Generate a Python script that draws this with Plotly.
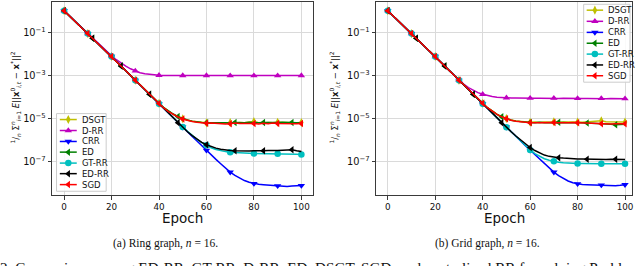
import plotly.graph_objects as go

W, H = 640, 266

# ---------------- data (log10 of the error) ----------------
epochs = list(range(0, 101, 2))
x_tick_vals = [0, 20, 40, 60, 80, 100]
y_tick_vals = [1e-1, 1e-3, 1e-5, 1e-7]
y_tick_text = ["10<sup>−1</sup>", "10<sup>−3</sup>", "10<sup>−5</sup>", "10<sup>−7</sup>"]
series_names = ["DSGT", "D-RR", "CRR", "ED", "GT-RR", "ED-RR", "SGD"]

ring_dsgt = [0.00, -0.21, -0.43, -0.64, -0.85, -1.06, -1.27, -1.48, -1.70, -1.91,
             -2.12, -2.34, -2.56, -2.78, -3.00, -3.22, -3.44, -3.65, -3.87, -4.08,
             -4.29, -4.49, -4.66, -4.80, -4.91, -5.00, -5.07, -5.12, -5.15, -5.17,
             -5.19, -5.20, -5.18, -5.21, -5.19, -5.18, -5.20, -5.17, -5.19, -5.16,
             -5.13, -5.18, -5.20, -5.17, -5.19, -5.16, -5.18, -5.17, -5.19, -5.18,
             -5.17]
ring_drr = [0.00, -0.21, -0.43, -0.64, -0.85, -1.06, -1.27, -1.48, -1.69, -1.89,
            -2.09, -2.27, -2.43, -2.57, -2.69, -2.79, -2.87, -2.92, -2.95, -2.97,
            -2.99, -3.00, -3.00, -3.01, -3.00, -3.00, -3.01, -3.00, -3.00, -3.00,
            -3.00, -3.01, -3.00, -3.00, -3.00, -3.01, -3.00, -3.00, -3.00, -3.00,
            -3.01, -3.00, -3.00, -3.00, -3.00, -3.01, -3.00, -3.00, -3.00, -3.00,
            -3.00]
ring_crr = [0.00, -0.21, -0.43, -0.64, -0.85, -1.06, -1.27, -1.48, -1.70, -1.91,
            -2.12, -2.34, -2.56, -2.78, -3.00, -3.22, -3.44, -3.65, -3.87, -4.09,
            -4.31, -4.53, -4.75, -4.96, -5.18, -5.39, -5.60, -5.82, -6.03, -6.25,
            -6.46, -6.67, -6.88, -7.08, -7.28, -7.47, -7.62, -7.75, -7.86, -7.94,
            -8.00, -8.03, -8.05, -8.07, -8.08, -8.10, -8.11, -8.13, -8.11, -8.10,
            -8.09]
ring_ed = [0.00, -0.21, -0.43, -0.64, -0.85, -1.06, -1.27, -1.48, -1.70, -1.91,
           -2.12, -2.34, -2.56, -2.78, -3.00, -3.22, -3.44, -3.65, -3.87, -4.08,
           -4.29, -4.48, -4.64, -4.78, -4.90, -4.99, -5.06, -5.11, -5.15, -5.17,
           -5.18, -5.19, -5.17, -5.19, -5.18, -5.20, -5.17, -5.19, -5.18, -5.16,
           -5.18, -5.19, -5.17, -5.18, -5.19, -5.17, -5.16, -5.18, -5.17, -5.19,
           -5.18]
ring_gtrr = [0.00, -0.21, -0.43, -0.64, -0.85, -1.06, -1.27, -1.48, -1.70, -1.91,
             -2.12, -2.34, -2.56, -2.78, -3.00, -3.22, -3.44, -3.65, -3.87, -4.09,
             -4.31, -4.53, -4.75, -4.97, -5.18, -5.38, -5.58, -5.77, -5.95, -6.10,
             -6.23, -6.34, -6.42, -6.48, -6.52, -6.55, -6.57, -6.58, -6.59, -6.60,
             -6.61, -6.61, -6.62, -6.61, -6.62, -6.62, -6.62, -6.63, -6.63, -6.64,
             -6.65]
ring_edrr = [0.00, -0.21, -0.43, -0.64, -0.85, -1.06, -1.27, -1.48, -1.70, -1.91,
             -2.12, -2.34, -2.56, -2.78, -3.00, -3.22, -3.44, -3.65, -3.87, -4.09,
             -4.31, -4.53, -4.75, -4.97, -5.19, -5.40, -5.60, -5.78, -5.95, -6.09,
             -6.20, -6.29, -6.36, -6.41, -6.45, -6.47, -6.48, -6.49, -6.48, -6.49,
             -6.48, -6.49, -6.48, -6.47, -6.48, -6.47, -6.46, -6.45, -6.43, -6.48,
             -6.52]
ring_sgd = [0.00, -0.21, -0.43, -0.64, -0.85, -1.06, -1.27, -1.48, -1.70, -1.91,
            -2.12, -2.34, -2.56, -2.78, -3.00, -3.22, -3.44, -3.65, -3.87, -4.09,
            -4.30, -4.50, -4.67, -4.81, -4.92, -5.01, -5.08, -5.13, -5.16, -5.19,
            -5.21, -5.20, -5.22, -5.21, -5.24, -5.23, -5.20, -5.22, -5.21, -5.23,
            -5.22, -5.24, -5.21, -5.23, -5.20, -5.22, -5.23, -5.21, -5.22, -5.23,
            -5.22]

grid_dsgt = [0.00, -0.21, -0.43, -0.64, -0.85, -1.06, -1.27, -1.48, -1.70, -1.91,
             -2.12, -2.34, -2.56, -2.78, -3.00, -3.22, -3.44, -3.65, -3.87, -4.08,
             -4.28, -4.48, -4.65, -4.79, -4.90, -4.99, -5.06, -5.10, -5.13, -5.15,
             -5.16, -5.15, -5.17, -5.15, -5.16, -5.14, -5.16, -5.15, -5.14, -5.16,
             -5.15, -5.16, -5.14, -5.15, -5.13, -5.09, -5.14, -5.15, -5.16, -5.14,
             -5.15]
grid_drr = [0.00, -0.21, -0.43, -0.64, -0.85, -1.06, -1.27, -1.48, -1.70, -1.91,
            -2.12, -2.34, -2.56, -2.78, -2.99, -3.21, -3.40, -3.56, -3.69, -3.79,
            -3.87, -3.93, -3.97, -4.00, -4.02, -4.03, -4.04, -4.04, -4.05, -4.05,
            -4.05, -4.05, -4.05, -4.06, -4.05, -4.05, -4.06, -4.05, -4.06, -4.06,
            -4.06, -4.06, -4.06, -4.07, -4.06, -4.06, -4.07, -4.06, -4.07, -4.07,
            -4.07]
grid_crr = [0.00, -0.21, -0.43, -0.64, -0.85, -1.06, -1.27, -1.48, -1.70, -1.91,
            -2.12, -2.34, -2.56, -2.78, -3.00, -3.22, -3.44, -3.65, -3.87, -4.09,
            -4.31, -4.53, -4.75, -4.96, -5.18, -5.39, -5.60, -5.82, -6.03, -6.25,
            -6.46, -6.67, -6.88, -7.08, -7.28, -7.47, -7.63, -7.77, -7.88, -7.96,
            -8.01, -8.04, -8.05, -8.06, -8.07, -8.07, -8.08, -8.09, -8.10, -8.08,
            -8.05]
grid_ed = [0.00, -0.21, -0.43, -0.64, -0.85, -1.06, -1.27, -1.48, -1.70, -1.91,
           -2.12, -2.34, -2.56, -2.78, -3.00, -3.22, -3.44, -3.65, -3.87, -4.08,
           -4.29, -4.49, -4.66, -4.80, -4.91, -5.00, -5.07, -5.11, -5.14, -5.16,
           -5.17, -5.18, -5.16, -5.18, -5.17, -5.18, -5.16, -5.17, -5.18, -5.17,
           -5.18, -5.19, -5.20, -5.19, -5.21, -5.22, -5.24, -5.26, -5.28, -5.26,
           -5.25]
grid_gtrr = [0.00, -0.21, -0.43, -0.64, -0.85, -1.06, -1.27, -1.48, -1.70, -1.91,
             -2.12, -2.34, -2.56, -2.78, -3.00, -3.22, -3.44, -3.65, -3.87, -4.09,
             -4.31, -4.53, -4.75, -4.97, -5.18, -5.39, -5.60, -5.81, -6.02, -6.24,
             -6.44, -6.61, -6.75, -6.85, -6.92, -6.97, -7.01, -7.03, -7.05, -7.06,
             -7.07, -7.07, -7.08, -7.08, -7.08, -7.08, -7.08, -7.08, -7.08, -7.08,
             -7.08]
grid_edrr = [0.00, -0.21, -0.43, -0.64, -0.85, -1.06, -1.27, -1.48, -1.70, -1.91,
             -2.12, -2.34, -2.56, -2.78, -3.00, -3.22, -3.44, -3.65, -3.87, -4.09,
             -4.31, -4.53, -4.75, -4.97, -5.19, -5.40, -5.60, -5.80, -5.99, -6.17,
             -6.33, -6.47, -6.59, -6.68, -6.74, -6.78, -6.80, -6.82, -6.84, -6.85,
             -6.86, -6.86, -6.87, -6.87, -6.87, -6.87, -6.88, -6.87, -6.87, -6.88,
             -6.88]
grid_sgd = [0.00, -0.21, -0.43, -0.64, -0.85, -1.06, -1.27, -1.48, -1.70, -1.91,
            -2.12, -2.34, -2.56, -2.78, -3.00, -3.22, -3.44, -3.65, -3.87, -4.09,
            -4.28, -4.49, -4.66, -4.80, -4.91, -5.00, -5.07, -5.12, -5.15, -5.17,
            -5.18, -5.19, -5.18, -5.17, -5.19, -5.17, -5.18, -5.19, -5.18, -5.17,
            -5.18, -5.20, -5.21, -5.20, -5.22, -5.23, -5.22, -5.24, -5.23, -5.22,
            -5.23]

ring_series = [ring_dsgt, ring_drr, ring_crr, ring_ed, ring_gtrr, ring_edrr, ring_sgd]
grid_series = [grid_dsgt, grid_drr, grid_crr, grid_ed, grid_gtrr, grid_edrr, grid_sgd]
for s in ring_series + grid_series:
    assert len(s) == len(epochs)

captions = ["(a) Ring graph, <i>n</i> = 16.", "(b) Grid graph, <i>n</i> = 16."]
bottom_text = ("2. Comparison among ED-RR, GT-RR, D-RR, ED, DSGT, SGD, and centralized RR "
               "for solving Problem")

# ---------------- styles ----------------
colors = ["#bfbf00", "#bf00bf", "#0000ff", "#008000", "#00bfbf", "#000000", "#ff0000"]
symbols = ["diamond-tall", "triangle-up", "triangle-down", "triangle-left",
           "circle", "triangle-left", "triangle-left"]
mark_step = [5, 5, 5, 6, 5, 6, 5]  # every 10 / every 12 epochs
FONT = "DejaVu Sans"
FRAME = "#3a3a3a"
GRIDC = "#dadada"

def px_x(p):
    return p / W

def px_y(p):
    return 1 - p / H

fig = go.Figure()

panels = [("x", "y", ring_series), ("x2", "y2", grid_series)]
for xa, ya, series in panels:
    for i, vals in enumerate(series):
        yv = [10 ** v for v in vals]
        fig.add_trace(go.Scatter(x=epochs, y=yv, mode="lines", xaxis=xa, yaxis=ya,
                                 line=dict(color=colors[i], width=1.5),
                                 showlegend=False, hoverinfo="skip"))
        st = mark_step[i]
        fig.add_trace(go.Scatter(x=epochs[::st], y=yv[::st], mode="markers", xaxis=xa, yaxis=ya,
                                 marker=dict(color=colors[i], symbol=symbols[i], size=6.5,
                                             line=dict(width=0)),
                                 showlegend=False, hoverinfo="skip"))

# ---------------- manual legends (pixel overlay axes) ----------------
legend_boxes = [
    dict(x0=56.7, x1=106.5, y0=113.0, y1=191.0, rows=[119, 130, 141, 151.7, 162.7, 173.3, 184.3],
         lx0=60.0, lx1=77.0, tx=80.5),
    dict(x0=585.5, x1=632.0, y0=3.3, y1=81.5, rows=[9.2, 20.4, 31.5, 42.4, 53.3, 64.2, 75.0],
         lx0=588.5, lx1=605.0, tx=608.0),
]
annotations = []
for lb in legend_boxes:
    fig.add_trace(go.Scatter(x=[lb["x0"], lb["x1"], lb["x1"], lb["x0"], lb["x0"]],
                             y=[lb["y0"], lb["y0"], lb["y1"], lb["y1"], lb["y0"]],
                             mode="lines", fill="toself", fillcolor="rgba(255,255,255,0.85)",
                             line=dict(color="#cccccc", width=1), xaxis="x3", yaxis="y3",
                             showlegend=False, hoverinfo="skip"))
    for i, ry in enumerate(lb["rows"]):
        mx = (lb["lx0"] + lb["lx1"]) / 2
        fig.add_trace(go.Scatter(x=[lb["lx0"], lb["lx1"]], y=[ry, ry], mode="lines",
                                 line=dict(color=colors[i], width=1.5), xaxis="x3", yaxis="y3",
                                 showlegend=False, hoverinfo="skip"))
        fig.add_trace(go.Scatter(x=[mx], y=[ry], mode="markers",
                                 marker=dict(color=colors[i], symbol=symbols[i], size=6.5),
                                 xaxis="x3", yaxis="y3", showlegend=False, hoverinfo="skip"))
        annotations.append(dict(x=lb["tx"], y=ry, xref="x3", yref="y3", text=series_names[i],
                                showarrow=False, xanchor="left", yanchor="middle",
                                font=dict(family=FONT, size=8.5, color="#111")))

# ---------------- axes ----------------
def xaxis_cfg(domain, rng):
    return dict(domain=domain, range=rng, tickvals=x_tick_vals, showgrid=True, gridcolor=GRIDC,
                gridwidth=1, zeroline=False, showline=True, mirror=True, linecolor=FRAME,
                linewidth=1.3, ticks="outside", ticklen=3.5, tickwidth=1, tickcolor=FRAME,
                tickfont=dict(family=FONT, size=8.8, color="#111"))

def yaxis_cfg(domain, anchor):
    return dict(domain=domain, type="log", range=[-8.54, 0.42], tickvals=y_tick_vals,
                ticktext=y_tick_text, showgrid=True, gridcolor=GRIDC, gridwidth=1, zeroline=False,
                showline=True, mirror=True, linecolor=FRAME, linewidth=1.3, ticks="outside",
                ticklen=3.5, tickwidth=1, tickcolor=FRAME, anchor=anchor,
                tickfont=dict(family=FONT, size=9.8, color="#111"))

ydom = [px_y(195.0), px_y(0.6)]
fig.update_layout(
    width=W, height=H, margin=dict(l=0, r=0, t=0, b=0),
    paper_bgcolor="white", plot_bgcolor="rgba(0,0,0,0)", showlegend=False,
    xaxis=xaxis_cfg([px_x(52.5), px_x(313.5)], [-4.96, 104.7]) | dict(anchor="y"),
    yaxis=yaxis_cfg(ydom, "x"),
    xaxis2=xaxis_cfg([px_x(377.5), px_x(634.0)], [-4.84, 102.95]) | dict(anchor="y2"),
    yaxis2=yaxis_cfg(ydom, "x2"),
    xaxis3=dict(domain=[0, 1], range=[0, W], visible=False, fixedrange=True, anchor="y3"),
    yaxis3=dict(domain=[0, 1], range=[H, 0], visible=False, fixedrange=True, anchor="x3"),
)

ylabel = ("<sup>1</sup>/<sub><i>n</i></sub> Σ<sup><i>n</i></sup><sub><i>i</i>=1</sub> "
          "<i>E</i>||<b>x</b><sup>0</sup><sub><i>i,t</i></sub> − <b>x</b><sup>*</sup>||<sup>2</sup>")
for cx_axis, lab_x in [(183.0, 15.0), (505.7, 335.0)]:
    annotations.append(dict(x=px_x(cx_axis), y=px_y(217.5), xref="paper", yref="paper",
                            text="Epoch", showarrow=False, xanchor="center", yanchor="middle",
                            font=dict(family=FONT, size=13.5, color="#111")))
    annotations.append(dict(x=px_x(lab_x), y=px_y(97.0), xref="paper", yref="paper",
                            text=ylabel, textangle=-90, showarrow=False, xanchor="center",
                            yanchor="middle", font=dict(family=FONT, size=8.5, color="#111")))
annotations.append(dict(x=px_x(166.0), y=px_y(243.5), xref="paper", yref="paper",
                        text=captions[0], showarrow=False, xanchor="center", yanchor="middle",
                        font=dict(family="Liberation Serif", size=11.5, color="#111")))
annotations.append(dict(x=px_x(489.0), y=px_y(243.5), xref="paper", yref="paper",
                        text=captions[1], showarrow=False, xanchor="center", yanchor="middle",
                        font=dict(family="Liberation Serif", size=11.5, color="#111")))
annotations.append(dict(x=px_x(-2.0), y=px_y(267.5), xref="paper", yref="paper",
                        text=bottom_text, showarrow=False, xanchor="left", yanchor="middle",
                        font=dict(family="Liberation Serif", size=15.2, color="#111")))
fig.update_layout(annotations=annotations)

fig.write_html("out.html", config={"displayModeBar": False},
               post_script="document.body.style.margin='0px';")
